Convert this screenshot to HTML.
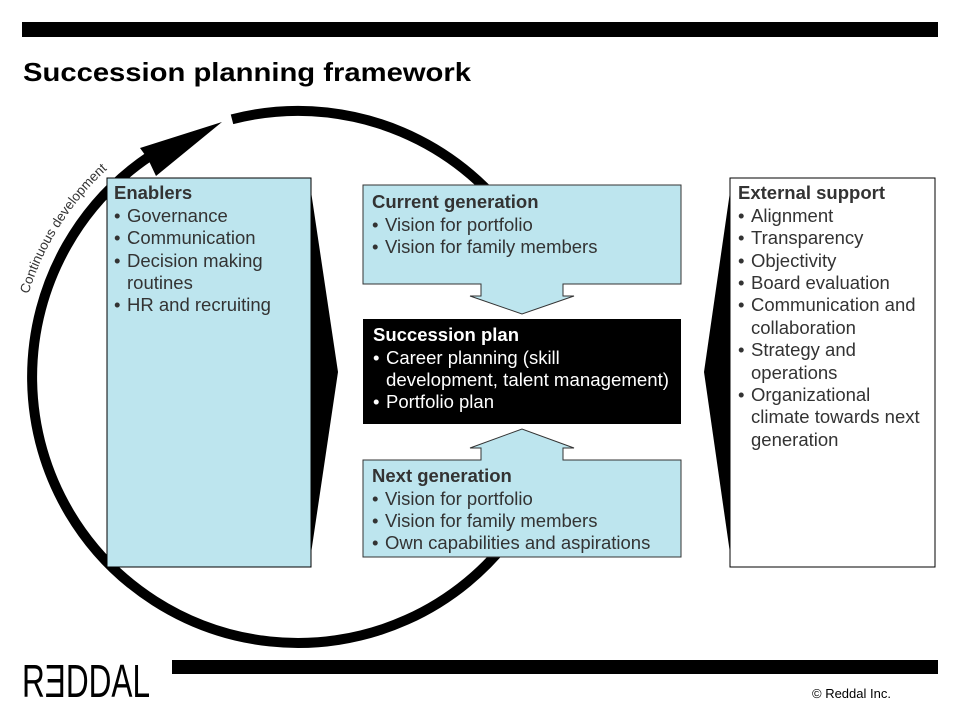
<!DOCTYPE html>
<html><head><meta charset="utf-8"><style>
html,body{margin:0;padding:0;background:#fff;}
svg{display:block;font-family:"Liberation Sans",Arial,sans-serif;}
</style></head><body>
<svg width="960" height="720" viewBox="0 0 960 720" xmlns="http://www.w3.org/2000/svg">
<rect x="22" y="22" width="916" height="15" fill="#000"/>
<text x="23" y="81" font-size="26" font-weight="bold" fill="#000" textLength="448" lengthAdjust="spacingAndGlyphs">Succession planning framework</text>

<!-- circle arc -->
<path d="M 232 119.3 A 266 266 0 1 1 150 156" fill="none" stroke="#000" stroke-width="10"/>
<polygon points="222,122 140,148 148,159 156,176" fill="#000"/>
<defs><path id="arcTxt" d="M 16 377 A 282 282 0 0 1 298 95"/></defs>
<text font-size="13.5" fill="#333"><textPath href="#arcTxt" startOffset="84">Continuous development</textPath></text>

<rect x="340" y="280" width="360" height="184" fill="#fff"/>

<!-- enablers -->
<polygon points="309,178 338,372 309,567" fill="#000"/>
<rect x="107" y="178" width="204" height="389" fill="#bde5ee" stroke="#000" stroke-width="1"/>
<g font-size="18.5" fill="#333">
<text x="114" y="199" font-weight="bold">Enablers</text>
<text x="114" y="222">•</text><text x="127" y="222">Governance</text>
<text x="114" y="244">•</text><text x="127" y="244">Communication</text>
<text x="114" y="267">•</text><text x="127" y="267">Decision making</text>
<text x="127" y="289">routines</text>
<text x="114" y="311">•</text><text x="127" y="311">HR and recruiting</text>
</g>

<!-- external -->
<polygon points="732,178 704,372 732,567" fill="#000"/>
<rect x="730" y="178" width="205" height="389" fill="#fff" stroke="#000" stroke-width="1"/>
<g font-size="18.5" fill="#333">
<text x="738" y="199" font-weight="bold">External support</text>
<text x="738" y="222">•</text><text x="751" y="222">Alignment</text>
<text x="738" y="244">•</text><text x="751" y="244">Transparency</text>
<text x="738" y="267">•</text><text x="751" y="267">Objectivity</text>
<text x="738" y="289">•</text><text x="751" y="289">Board evaluation</text>
<text x="738" y="311">•</text><text x="751" y="311">Communication and</text>
<text x="751" y="334">collaboration</text>
<text x="738" y="356">•</text><text x="751" y="356">Strategy and</text>
<text x="751" y="379">operations</text>
<text x="738" y="401">•</text><text x="751" y="401">Organizational</text>
<text x="751" y="423">climate towards next</text>
<text x="751" y="446">generation</text>
</g>

<!-- current generation -->
<path d="M363 185 H681 V284 H563 V296 H574 L522 314 L470 296 H481 V284 H363 Z" fill="#bde5ee" stroke="#333" stroke-width="1"/>
<g font-size="18.5" fill="#333">
<text x="372" y="208" font-weight="bold">Current generation</text>
<text x="372" y="231">•</text><text x="385" y="231">Vision for portfolio</text>
<text x="372" y="253">•</text><text x="385" y="253">Vision for family members</text>
</g>

<!-- succession plan -->
<rect x="363" y="319" width="318" height="105" fill="#000"/>
<g font-size="18.5" fill="#fff">
<text x="373" y="341" font-weight="bold">Succession plan</text>
<text x="373" y="364">•</text><text x="386" y="364">Career planning (skill</text>
<text x="386" y="386" textLength="283" lengthAdjust="spacingAndGlyphs">development, talent management)</text>
<text x="373" y="408">•</text><text x="386" y="408">Portfolio plan</text>
</g>

<!-- next generation -->
<path d="M363 460 H481 V448 H470 L522 429 L574 448 H563 V460 H681 V557 H363 Z" fill="#bde5ee" stroke="#333" stroke-width="1"/>
<g font-size="18.5" fill="#333">
<text x="372" y="482" font-weight="bold">Next generation</text>
<text x="372" y="505">•</text><text x="385" y="505">Vision for portfolio</text>
<text x="372" y="527">•</text><text x="385" y="527">Vision for family members</text>
<text x="372" y="549">•</text><text x="385" y="549">Own capabilities and aspirations</text>
</g>

<!-- footer -->
<rect x="172" y="660" width="766" height="14" fill="#000"/>
<text x="22" y="697" font-size="46" fill="#000" textLength="128" lengthAdjust="spacingAndGlyphs">RƎDDAL</text>
<text x="812" y="698" font-size="13" fill="#000">© Reddal  Inc.</text>
</svg>
</body></html>
